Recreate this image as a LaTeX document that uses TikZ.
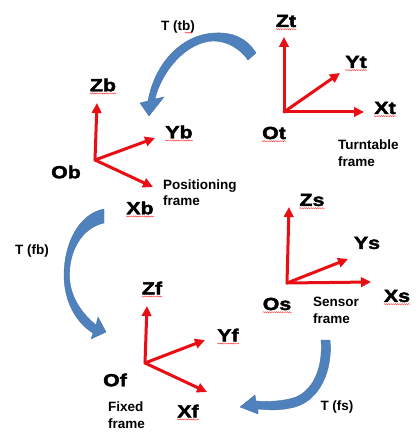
\documentclass[tikz,border=0pt]{standalone}
\usepackage{fontspec}
\setmainfont{Liberation Sans}
\newfontfamily\axfont{Liberation Sans}[BoldFeatures={FakeBold=2.4,FakeStretch=1.22}]
\usetikzlibrary{arrows.meta,decorations.pathmorphing}
\definecolor{axred}{RGB}{232,14,20}
\definecolor{tblue}{RGB}{79,129,189}
\definecolor{tblueedge}{RGB}{62,106,160}
\tikzset{
  axis/.style={draw=axred, line width=3pt, line cap=round, -{Triangle[length=10pt,width=9.5pt]}},
  axlbl/.style={inner sep=0pt, font=\axfont\bfseries\fontsize{17.5}{19}\selectfont},
  framelbl/.style={inner sep=0pt, align=left, anchor=north west, font=\bfseries\fontsize{13.5}{16.5}\selectfont},
  tlbl/.style={inner sep=0pt, font=\bfseries\fontsize{13.5}{16}\selectfont},
  squig/.style={draw=red!75, line width=0.45pt, decorate, decoration={snake, amplitude=0.55pt, segment length=2.2pt}},
  tarrow/.style={fill=tblue, draw=tblueedge, line width=0.3pt},
}
\begin{document}
\begin{tikzpicture}[x=1pt,y=-1pt]
\fill[white] (0,0) rectangle (418,438);
\useasboundingbox (0,0) rectangle (418,438);

% ---------- Turntable frame ----------
\coordinate (oT) at (284,112);
\coordinate (zT) at (284,37);
\coordinate (yT) at (340,73);
\coordinate (xT) at (364,112);
\draw[axis] (oT) -- (zT);
\draw[axis] (oT) -- (yT);
\draw[axis] (oT) -- (xT);
\node[axlbl] (lZt) at (286,21) {Zt};
\node[axlbl] (lYt) at (356,62) {Yt};
\node[axlbl] (lXt) at (385,108) {Xt};
\node[axlbl] (lOt) at (274,133) {Ot};
\node[framelbl] (fT) at (338,140) {Turntable\\frame};

% ---------- Positioning frame ----------
\coordinate (oB) at (95,160);
\coordinate (zB) at (97,103);
\coordinate (yB) at (155,138);
\coordinate (xB) at (153,187);
\draw[axis] (oB) -- (zB);
\draw[axis] (oB) -- (yB);
\draw[axis] (oB) -- (xB);
\node[axlbl] (lZb) at (103,85) {Zb};
\node[axlbl] (lYb) at (179,132) {Yb};
\node[axlbl] (lOb) at (66,172) {Ob};
\node[axlbl] (lXb) at (140,208) {Xb};
\node[framelbl] (fB) at (163,179.5) {Positioning\\frame};

% ---------- Fixed frame ----------
\coordinate (oF) at (145,363);
\coordinate (zF) at (147,306);
\coordinate (yF) at (205,340);
\coordinate (xF) at (207,392);
\draw[axis] (oF) -- (zF);
\draw[axis] (oF) -- (yF);
\draw[axis] (oF) -- (xF);
\node[axlbl] (lZf) at (152,288) {Zf};
\node[axlbl] (lYf) at (228,335) {Yf};
\node[axlbl] (lOf) at (115,380) {Of};
\node[axlbl] (lXf) at (188,411) {Xf};
\node[framelbl] (fF) at (108,402) {Fixed\\frame};

% ---------- Sensor frame ----------
\coordinate (oS) at (287,283);
\coordinate (zS) at (289,207);
\coordinate (yS) at (348,259);
\coordinate (xS) at (371,282);
\draw[axis] (oS) -- (zS);
\draw[axis] (oS) -- (yS);
\draw[axis] (oS) -- (xS);
\node[axlbl] (lZs) at (312,200) {Zs};
\node[axlbl] (lYs) at (367,243) {Ys};
\node[axlbl] (lXs) at (397,296) {Xs};
\node[axlbl] (lOs) at (277,304) {Os};
\node[framelbl] (fS) at (313,297) {Sensor\\frame};

% ---------- spell-check underlines ----------
\foreach \n in {lZt,lYt,lXt,lOt,lZb,lYb,lXb,lZf,lYf,lXf,lZs,lXs,lOs}{
  \draw[squig] ([yshift=-2.2pt]\n.base west) -- ([yshift=-2.2pt]\n.base east);
}

% ---------- transformation arrows ----------
% T (tb)
\fill[tarrow] (256,53) .. controls (246,37) and (231,32) .. (215,33)
  .. controls (183,34) and (155,62) .. (148,101)
  -- (140,103) -- (149,116) -- (164,97) -- (155,99)
  .. controls (162,70) and (187,42) .. (213,41)
  .. controls (228,41) and (240,49) .. (248,60) -- cycle;
\node[tlbl] (ttb) at (178,27) {T (tb)};
\draw[squig] ([yshift=-2.2pt,xshift=7pt]ttb.base) -- ([yshift=-2.2pt,xshift=-3pt]ttb.base east);

% T (fb)
\fill[tarrow] (104,209) .. controls (78,214) and (64,245) .. (64,275)
  .. controls (64,300) and (75,322) .. (93,333)
  -- (91,339) -- (106,332) -- (98,317) -- (96,325)
  .. controls (80,312) and (69.5,295) .. (69.5,275)
  .. controls (69.5,250) and (82,228) .. (104,223) -- cycle;
\node[tlbl] (tfb) at (32,251) {T (fb)};

% T (fs)
\fill[tarrow] (330,340) .. controls (333,370) and (320,400) .. (295,407)
  .. controls (280,411) and (268,410) .. (258,409)
  -- (258,414) -- (240,407) -- (255,395) -- (256,401)
  .. controls (270,402) and (285,401) .. (296,397)
  .. controls (315,389) and (323,365) .. (321,340) -- cycle;
\node[tlbl] (tfs) at (337,407) {T (fs)};
\end{tikzpicture}
\end{document}
